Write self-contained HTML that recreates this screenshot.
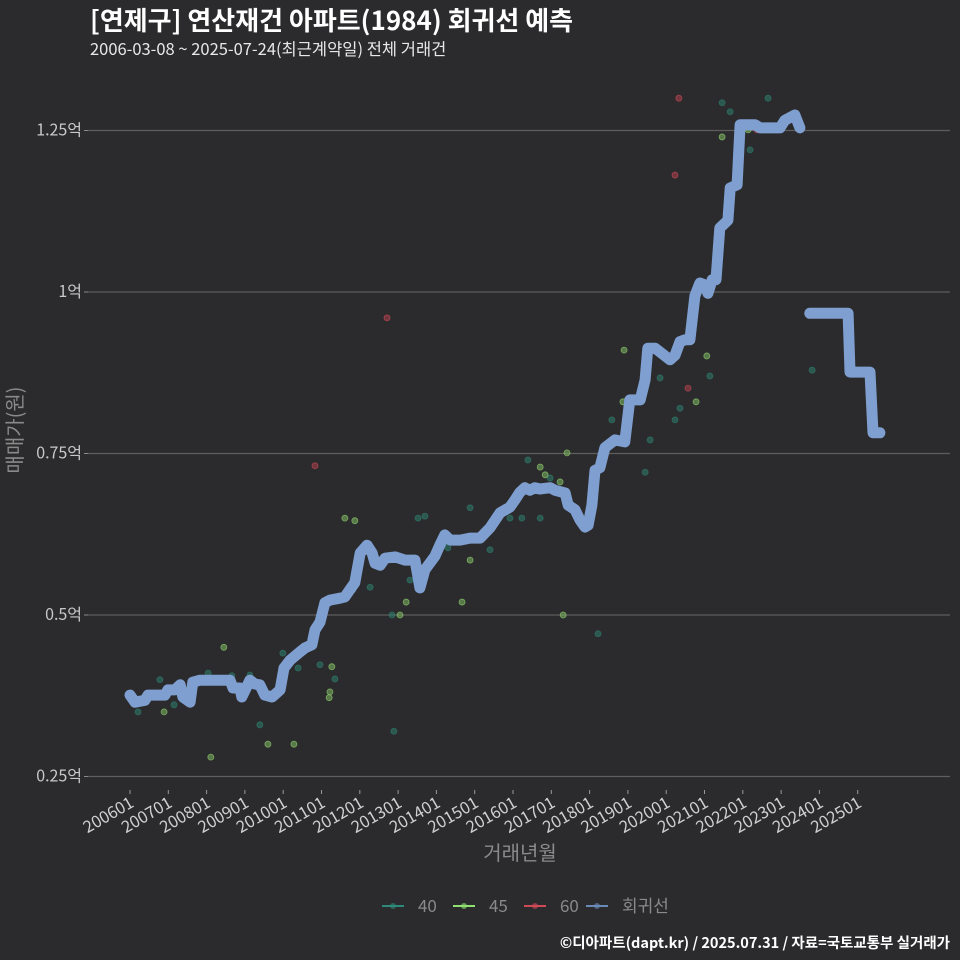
<!DOCTYPE html>
<html><head><meta charset="utf-8">
<style>
html,body{margin:0;padding:0;background:#2b2b2d;}
svg{display:block;font-family:"Noto Sans CJK KR","Liberation Sans",sans-serif;}
</style></head>
<body>
<svg id="chart" width="960" height="960" viewBox="0 0 960 960">
<rect width="960" height="960" fill="#2b2b2d"/>
<text x="90" y="30" fill="#ffffff" font-size="26" font-weight="bold">[연제구] 연산재건 아파트(1984) 회귀선 예측</text>
<text x="90" y="55" fill="#e8e8e8" font-size="16.5">2006-03-08 ~ 2025-07-24(최근계약일) 전체 거래건</text>
<g id="grid"></g>
<g id="xaxis"></g>
<g id="scatter"></g>
<g id="lines"></g>
<text transform="translate(22,430) rotate(-90)" text-anchor="middle" fill="#8a8a8a" font-size="20">매매가(원)</text>
<text x="520" y="860" text-anchor="middle" fill="#8a8a8a" font-size="20">거래년월</text>
<g id="legend"></g>
<text x="950" y="948" text-anchor="end" fill="#ffffff" font-size="14.5" font-weight="bold">©디아파트(dapt.kr) / 2025.07.31 / 자료=국토교통부 실거래가</text>
</svg>
<script>
const yTicks = [0.25, 0.5, 0.75, 1, 1.25];
const yTickLabels = ["0.25억", "0.5억", "0.75억", "1억", "1.25억"];
const xTicks = [2006,2007,2008,2009,2010,2011,2012,2013,2014,2015,2016,2017,2018,2019,2020,2021,2022,2023,2024,2025];
const xTickLabels = ["200601","200701","200801","200901","201001","201101","201201","201301","201401","201501","201601","201701","201801","201901","202001","202101","202201","202301","202401","202501"];
const regYears = [2006.00,2006.13,2006.39,2006.47,2006.91,2006.99,2007.17,2007.31,2007.38,2007.57,2007.64,2007.83,2008.61,2008.69,2008.87,2008.92,2009.13,2009.26,2009.39,2009.52,2009.71,2009.92,2010.02,2010.18,2010.44,2010.57,2010.75,2010.83,2010.96,2011.09,2011.22,2011.48,2011.61,2011.74,2011.87,2012.01,2012.19,2012.32,2012.40,2012.53,2012.66,2012.92,2013.18,2013.44,2013.57,2013.70,2013.96,2014.09,2014.22,2014.36,2014.62,2014.88,2015.14,2015.40,2015.66,2015.92,2016.05,2016.18,2016.31,2016.44,2016.57,2016.70,2016.97,2017.10,2017.36,2017.44,2017.62,2017.75,2017.88,2017.96,2018.06,2018.14,2018.27,2018.40,2018.66,2018.92,2019.05,2019.32,2019.45,2019.52,2019.71,2019.84,2020.10,2020.23,2020.36,2020.49,2020.62,2020.75,2020.88,2021.01,2021.09,2021.20,2021.30,2021.40,2021.61,2021.67,2021.85,2021.93,2022.32,2022.45,2022.97,2023.10,2023.36,2023.49];
const regValues = [0.376,0.365,0.368,0.376,0.376,0.384,0.384,0.392,0.373,0.365,0.396,0.399,0.399,0.387,0.387,0.373,0.399,0.393,0.392,0.376,0.373,0.384,0.418,0.430,0.443,0.449,0.454,0.477,0.489,0.519,0.523,0.526,0.528,0.539,0.550,0.596,0.608,0.596,0.580,0.577,0.588,0.590,0.585,0.585,0.542,0.570,0.591,0.608,0.624,0.616,0.616,0.619,0.619,0.635,0.658,0.667,0.678,0.690,0.697,0.693,0.697,0.695,0.697,0.693,0.689,0.670,0.663,0.647,0.636,0.639,0.670,0.724,0.728,0.759,0.771,0.768,0.833,0.833,0.864,0.913,0.913,0.907,0.895,0.902,0.923,0.926,0.926,0.994,1.014,1.011,0.998,1.019,1.019,1.099,1.111,1.161,1.166,1.259,1.259,1.254,1.254,1.266,1.274,1.254];
const predYears = [2023.75,2024.75,2024.80,2025.32,2025.40,2025.58];
const predValues = [0.967,0.967,0.876,0.876,0.782,0.782];
const s40Years = [2006.21,2006.78,2007.15,2008.04,2008.66,2009.13,2009.39,2009.99,2010.39,2010.96,2011.35,2011.82,2012.27,2012.84,2012.89,2013.31,2013.52,2013.70,2014.30,2014.88,2015.40,2015.92,2016.23,2016.39,2016.71,2016.97,2018.22,2018.58,2019.45,2019.58,2019.84,2020.23,2020.36,2021.14,2021.46,2021.67,2022.19,2022.66,2023.81];
const s40Values = [0.350,0.400,0.361,0.410,0.406,0.407,0.330,0.441,0.418,0.423,0.401,0.539,0.543,0.500,0.320,0.554,0.650,0.653,0.604,0.666,0.601,0.650,0.650,0.740,0.650,0.712,0.471,0.802,0.721,0.771,0.867,0.802,0.820,0.870,1.293,1.279,1.220,1.300,0.879];
const s45Years = [2006.89,2008.45,2008.11,2009.60,2010.28,2011.22,2011.27,2011.20,2011.61,2011.87,2013.05,2013.21,2014.67,2014.88,2016.71,2016.84,2017.23,2017.31,2017.41,2018.87,2018.90,2020.78,2021.06,2021.46,2022.14];
const s45Values = [0.350,0.450,0.280,0.300,0.300,0.381,0.420,0.372,0.650,0.646,0.500,0.520,0.520,0.585,0.729,0.717,0.706,0.500,0.751,0.830,0.910,0.830,0.901,1.240,1.251];
const s60Years = [2010.83,2012.71,2020.23,2020.33,2020.57,2022.37];
const s60Values = [0.731,0.960,1.181,1.300,0.851,1.251];

const NS="http://www.w3.org/2000/svg";
const xS = y => 130 + (y-2006)*38.3;
const yS = v => 292 - (v-1)*646;
function mk(tag, attrs, parent){const e=document.createElementNS(NS,tag);for(const k in attrs)e.setAttribute(k,attrs[k]);parent.appendChild(e);return e;}
const grid=document.getElementById('grid');
yTicks.forEach((t,i)=>{
  const l=mk('line',{x1:88,x2:950,y1:yS(t),y2:yS(t),stroke:'#5e5e5e','stroke-width':1.2},grid);
  
  
  const tk=mk('line',{x1:84,x2:88,y1:yS(t),y2:yS(t),stroke:'#8a8a8a'},grid);
  
  
  const tx=mk('text',{x:82,y:yS(t)+5,'text-anchor':'end',fill:'#c8c8c8','font-size':16},grid);
  tx.textContent=yTickLabels[i];
  
  
});
const xa=document.getElementById('xaxis');
xTicks.forEach((t,i)=>{
  const x=xS(t);
  const tk=mk('line',{x1:x,x2:x,y1:790,y2:794,stroke:'#9a9a9a'},xa);
  
  
  const tx=mk('text',{transform:`translate(${x+5},${806}) rotate(-30)`,'text-anchor':'end',fill:'#d0d0d0','font-size':16.5},xa);
  tx.textContent=xTickLabels[i];
  
  
});
const sc=document.getElementById('scatter');
function pts(ys,vs,fill,stroke,name){
  ys.forEach((y,i)=>{
    const c=mk('circle',{cx:xS(y),cy:yS(vs[i]),r:3,fill:fill,stroke:stroke,'stroke-width':0.8,'fill-opacity':0.55,'stroke-opacity':0.7},sc);
    
    
  });
}
pts(s40Years,s40Values,'#2d7d6e','#2d7d6e','point-40');
pts(s45Years,s45Values,'#7fb860','#8fd070','point-45');
pts(s60Years,s60Values,'#b0404c','#c84a56','point-60');
const ln=document.getElementById('lines');
function path(ys,vs,name){
  const d=ys.map((y,i)=>(i?'L':'M')+xS(y).toFixed(1)+','+yS(vs[i]).toFixed(1)).join(' ');
  const p=mk('path',{d:d,fill:'none',stroke:'#7f9fd0','stroke-width':11,'stroke-linecap':'round','stroke-linejoin':'round'},ln);
  
  
}
path(regYears,regValues,'regression-line');
path(predYears,predValues,'prediction-line');
const lg=document.getElementById('legend');
const legItems=[['40','#2d8a7a',382],['45','#8fe070',453],['60','#d04a56',524],['회귀선','#6a8ab8',586]];
legItems.forEach(it=>{
  const g=mk('g',{},lg);
  
  
  mk('line',{x1:it[2],x2:it[2]+22,y1:906,y2:906,stroke:it[1],'stroke-width':2},g);
  mk('circle',{cx:it[2]+11,cy:906,r:3,fill:it[1],'fill-opacity':0.6},g);
  const t=mk('text',{x:it[2]+36,y:912,fill:'#8a8a8a','font-size':17},g);
  t.textContent=it[0];
});
</script>
</body></html>
